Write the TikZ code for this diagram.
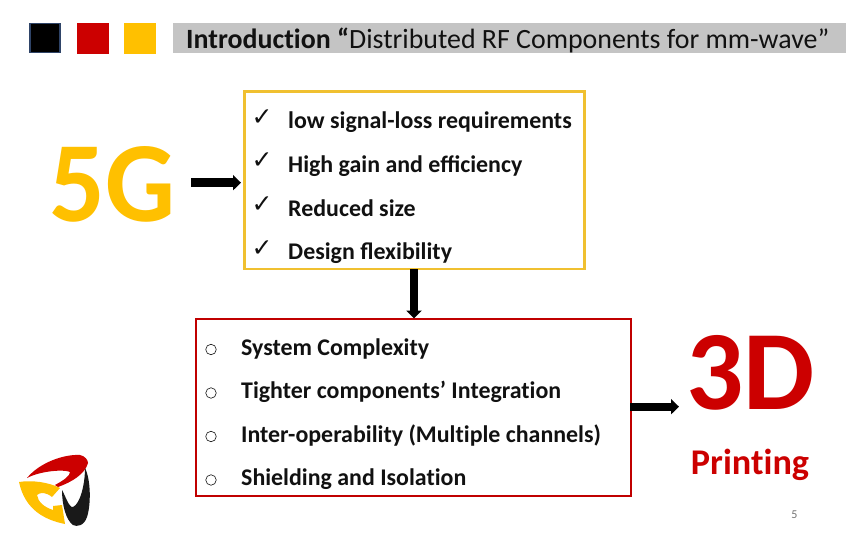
\documentclass[tikz,border=0pt]{standalone}
\usepackage{fontspec}
\setmainfont[Ligatures=NoCommon]{Carlito}
\newfontfamily\symfont{DejaVu Sans}
\usetikzlibrary{arrows.meta}
\definecolor{ygold}{HTML}{FFC000}
\definecolor{yline}{HTML}{F0C030}
\definecolor{rline}{HTML}{C00000}
\definecolor{rfill}{HTML}{CC0000}
\definecolor{navy}{HTML}{2F4468}
\definecolor{bar}{HTML}{C4C4C4}
\definecolor{ink}{HTML}{111111}
\tikzset{
  item/.style={anchor=base west,inner sep=0pt,font=\fontsize{23.9}{26}\selectfont\bfseries,text=ink},
  tick/.style={anchor=center,inner sep=0pt,font=\symfont\fontsize{25}{27}\selectfont,text=ink},
  ring/.style={circle,draw=ink,line width=.6pt,minimum size=10.5pt,inner sep=0pt},
  listbox/.style={anchor=north west,fill=white,inner sep=0pt},
  bigarrow/.style={line width=8pt,-{Triangle[length=8pt,width=15pt]},black},
  square/.style={anchor=north west,minimum width=32pt,minimum height=31pt,inner sep=0pt}
}
\begin{document}
\begin{tikzpicture}[x=1pt,y=-1pt]
\useasboundingbox (0,0) rectangle (864,540);
\fill[white] (0,0) rectangle (864,540);
\node[square,fill=black,draw=navy,line width=1.5pt,minimum width=30pt,minimum height=29pt] (s1) at (29,23) {};
\node[square,fill=rfill] (s2) at (77,23) {};
\node[square,fill=ygold] (s3) at (124,23) {};
\node[anchor=north west,fill=bar,minimum width=673pt,minimum height=30pt,inner sep=0pt] (titlebar) at (173,23) {};
\node[anchor=base west,inner sep=0pt,font=\fontsize{27.9}{30}\selectfont,text=ink] (title) at (186,49) {\textbf{Introduction “}Distributed RF Components for mm-wave”};
\node[anchor=base,inner sep=0pt,font=\fontsize{110}{114}\selectfont\bfseries,text=ygold] (fiveg) at (112.5,222) {\scalebox{1}[1.04]{5G}};
\node[listbox,draw=yline,line width=2.5pt,minimum width=340pt,minimum height=177pt] (ybox) at (243,90.5) {};
\node[listbox,draw=rline,line width=2.5pt,minimum width=435pt,minimum height=177pt] (rbox) at (194.5,317.5) {};
\node[tick] (m1) at (262,118) {✓};
\node[item] (y1) at (288,129) {low signal-loss requirements};
\node[tick] (m2) at (262,161) {✓};
\node[item] (y2) at (288,172) {High gain and eﬃciency};
\node[tick] (m3) at (262,205) {✓};
\node[item] (y3) at (288,216) {Reduced size};
\node[tick] (m4) at (262,249) {✓};
\node[item] (y4) at (288,259) {Design ﬂexibility};
\node[ring] (o1) at (211,349.5) {};
\node[item] (r1) at (241,355) {System Complexity};
\node[ring] (o2) at (211,393) {};
\node[item] (r2) at (241,398) {Tighter components’ Integration};
\node[ring] (o3) at (211,436.5) {};
\node[item] (r3) at (241,442) {Inter-operability (Multiple channels)};
\node[ring] (o4) at (211,480) {};
\node[item] (r4) at (241,485) {Shielding and Isolation};
\node[anchor=base,inner sep=0pt,font=\fontsize{113}{118}\selectfont\bfseries,text=rfill] (td) at (750.5,409) {3D};
\node[anchor=base,inner sep=0pt,font=\fontsize{36.2}{40}\selectfont\bfseries,text=rfill] (pr) at (750,474) {Printing};
\node[anchor=center,inner sep=0pt,font=\fontsize{12}{14}\selectfont,text=black!55] (pg) at (794.5,514.5) {5};
\coordinate (a1s) at (191,182.7);
\coordinate (a1e) at (241,182.7);
\draw[bigarrow,line width=9pt] (a1s) -- (a1e);
\coordinate (a2s) at (414,269);
\coordinate (a2e) at (414,318.5);
\draw[bigarrow] (a2s) -- (a2e);
\coordinate (a3s) at (630,406.7);
\coordinate (a3e) at (679,406.7);
\draw[bigarrow] (a3s) -- (a3e);
% logo
\fill[rfill] (27,478) .. controls (40,462) and (65,454) .. (80,455) .. controls (85,456) and (88,460) .. (88,463) .. controls (85,474) and (72,482) .. (58,487) -- (55,485) .. controls (64,480) and (70,476) .. (70,472) .. controls (64,469) and (40,471) .. (27,478) -- cycle;
\fill[ygold] (19,482) .. controls (32,480) and (48,482) .. (60,488) -- (52,497) .. controls (46,492) and (40,492) .. (37,495) .. controls (38,502) and (44,507) .. (53,510) -- (53,506) -- (62,505) -- (65,524) .. controls (45,520) and (25,510) .. (19,482) -- cycle;
\fill[black!90] (85,468) .. controls (91,480) and (91,505) .. (87,517) .. controls (84,526) and (77,527) .. (73,525) .. controls (66,520) and (62,505) .. (62,490) .. controls (65,495) and (69,508) .. (73,507) .. controls (80,504) and (85,485) .. (85,468) -- cycle;
\end{tikzpicture}
\end{document}
